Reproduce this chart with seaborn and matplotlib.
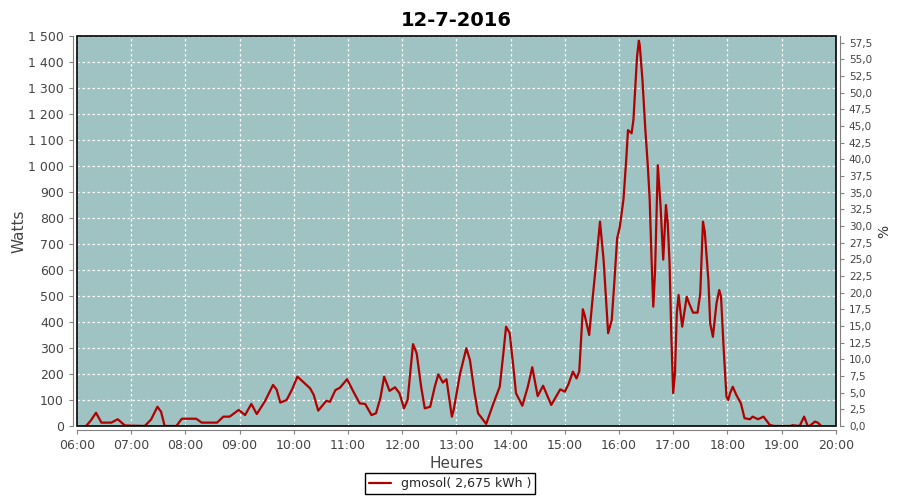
import pandas as pd
import matplotlib
matplotlib.use("Agg")
import matplotlib.pyplot as plt
from matplotlib.ticker import FuncFormatter, MultipleLocator
from matplotlib.patches import Rectangle
import seaborn as sns

# releves de puissance (heure, watts)
heures = ["06:10", "06:15", "06:21", "06:27", "06:38", "06:45", "06:53", "07:15", "07:22", "07:29",
          "07:33", "07:37", "07:50", "07:56", "08:12", "08:18", "08:35", "08:42", "08:49", "08:59",
          "09:06", "09:13", "09:19", "09:28", "09:37", "09:41", "09:45", "09:52", "09:58", "10:04",
          "10:12", "10:18", "10:22", "10:27", "10:36", "10:40", "10:46", "10:51", "10:59", "11:06",
          "11:13", "11:19", "11:26", "11:31", "11:36", "11:40", "11:46", "11:52", "11:57", "12:02",
          "12:06", "12:12", "12:16", "12:21", "12:25", "12:31", "12:36", "12:40", "12:45", "12:49",
          "12:55", "12:57", "13:04", "13:11", "13:15", "13:20", "13:24", "13:33", "13:41", "13:48",
          "13:52", "13:55", "13:59", "14:03", "14:06", "14:13", "14:19", "14:24", "14:30", "14:36",
          "14:45", "14:55", "15:00", "15:04", "15:09", "15:13", "15:16", "15:20", "15:22", "15:27",
          "15:31", "15:35", "15:39", "15:43", "15:48", "15:52", "15:55", "15:58", "16:01", "16:05",
          "16:08", "16:10", "16:14", "16:16", "16:20", "16:22", "16:23", "16:26", "16:29", "16:32",
          "16:34", "16:36", "16:38", "16:40", "16:43", "16:46", "16:49", "16:52", "16:54", "16:56",
          "16:58", "17:00", "17:02", "17:04", "17:06", "17:10", "17:15", "17:18", "17:22", "17:27",
          "17:30", "17:33", "17:35", "17:39", "17:41", "17:44", "17:48", "17:51", "17:53", "17:56",
          "17:59", "18:01", "18:03", "18:06", "18:10", "18:15", "18:19", "18:25", "18:28", "18:34",
          "18:40", "18:47", "18:52", "19:10", "19:12", "19:20", "19:25", "19:29", "19:31", "19:37",
          "19:40", "19:44"]
watts = [0, 20, 51, 13, 13, 26, 2, 0, 25, 74,
         55, 0, 0, 28, 28, 13, 13, 36, 36, 62,
         42, 85, 46, 95, 158, 140, 90, 100, 140, 190,
         164, 145, 120, 59, 97, 93, 138, 147, 180, 132,
         87, 85, 42, 49, 110, 190, 135, 149, 126, 68,
         100, 315, 280, 150, 68, 74, 150, 199, 167, 180,
         36, 62, 200, 299, 254, 130, 49, 8, 87, 151,
         280, 382, 357, 230, 126, 78, 150, 226, 115, 155,
         81, 141, 132, 160, 209, 183, 209, 449, 427, 350,
         497, 638, 786, 638, 357, 408, 560, 722, 767, 872,
         1023, 1138, 1126, 1177, 1420, 1482, 1465, 1331, 1151, 997,
         872, 650, 459, 600, 1003, 850, 640, 850, 780, 626,
         343, 126, 203, 433, 504, 382, 497, 469, 436, 436,
         510, 786, 747, 561, 395, 343, 472, 523, 497, 292,
         113, 100, 126, 151, 119, 87, 30, 26, 36, 26,
         36, 4, 0, 0, 3, 0, 36, 0, 0, 17,
         13, 0]

titre = "12-7-2016"
legende = "gmosol( 2,675 kWh )"

df = pd.DataFrame({"heure": heures, "watts": watts})
df["h"] = [int(s[:2]) + int(s[3:]) / 60 for s in heures]

sns.set_style("ticks")
plt.rcParams["font.family"] = ["DejaVu Sans"]

fig = plt.figure(figsize=(9, 5), dpi=100)
ax = fig.add_axes([0.0856, 0.148, 0.843, 0.78])
ax.set_facecolor("#9ec3c2")

sns.lineplot(data=df, x="h", y="watts", ax=ax, color="#b00000", linewidth=1.6, label=legende, legend=False)

ax.set_xlim(6, 20)
ax.set_ylim(0, 1500)
ax.xaxis.set_major_locator(MultipleLocator(1))
ax.yaxis.set_major_locator(MultipleLocator(100))
ax.xaxis.set_major_formatter(FuncFormatter(lambda v, p: f"{int(round(v)):02d}:00"))
ax.yaxis.set_major_formatter(FuncFormatter(lambda v, p: f"{int(v):,}".replace(",", " ")))
ax.grid(True, color="white", linestyle=(0, (2, 2)), linewidth=0.9)
ax.set_axisbelow(True)

for s in ["left", "bottom"]:
    ax.spines[s].set_position(("outward", 3))
    ax.spines[s].set_color("#808080")
for s in ["top", "right"]:
    ax.spines[s].set_visible(False)
ax.add_patch(Rectangle((0, 0), 1, 1, transform=ax.transAxes, fill=False,
                       edgecolor="black", linewidth=1.2, zorder=5, clip_on=False))
ax.tick_params(colors="#444444", labelsize=9, length=3, width=0.8, color="#808080")

ax.set_xlabel("Heures", fontsize=11, color="#444444", labelpad=3)
ax.set_ylabel("Watts", fontsize=11, color="#444444", labelpad=1)
ax.set_title(titre, fontsize=14, fontweight="bold", color="black", pad=7)

ax2 = ax.twinx()
ax2.set_ylim(0, 58.5)
ax2.yaxis.set_major_locator(MultipleLocator(2.5))
ax2.yaxis.set_major_formatter(FuncFormatter(lambda v, p: f"{v:.1f}".replace(".", ",")))
ax2.spines["right"].set_position(("outward", 3))
ax2.spines["right"].set_color("#808080")
for s in ["left", "top", "bottom"]:
    ax2.spines[s].set_visible(False)
ax2.tick_params(colors="#444444", labelsize=7.5, length=3, width=0.8, color="#808080")
ax2.set_ylabel("%", fontsize=10, color="#333333")

fig.legend(loc="lower center", bbox_to_anchor=(0.5, 0.0), fontsize=9, frameon=True,
           fancybox=False, edgecolor="black", framealpha=1, handlelength=1.8,
           borderpad=0.3)

fig.savefig("out.png", dpi=100)
